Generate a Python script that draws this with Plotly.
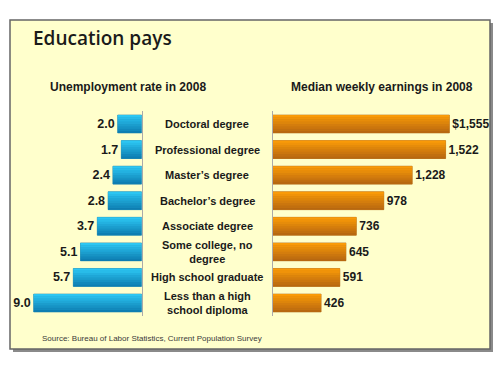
import plotly.graph_objects as go

categories = ["Doctoral degree", "Professional degree", "Master’s degree", "Bachelor’s degree",
              "Associate degree", "Some college, no degree", "High school graduate",
              "Less than a high school diploma"]
category_labels = ["Doctoral degree", "Professional degree", "Master’s degree", "Bachelor’s degree",
                   "Associate degree", "Some college, no<br>degree", "High school graduate",
                   "Less than a high<br>school diploma"]
unemployment = [2.0, 1.7, 2.4, 2.8, 3.7, 5.1, 5.7, 9.0]
earnings = [1555, 1522, 1228, 978, 736, 645, 591, 426]
unemp_text = [f"{v:.1f}" for v in unemployment]
earn_text = [("$" if i == 0 else "") + f"{v:,}" for i, v in enumerate(earnings)]

W, H = 500, 375
FONT = "Liberation Sans, Arial, sans-serif"
BAR_W = 0.7
N_BANDS = 8


def mix(c1, c2, t):
    a = [int(c1[i:i + 2], 16) for i in (1, 3, 5)]
    b = [int(c2[i:i + 2], 16) for i in (1, 3, 5)]
    return "#" + "".join(f"{round(a[k] + (b[k] - a[k]) * t):02x}" for k in range(3))


def add_gradient_bars(fig, values, text, xa, ya, top, bottom, edge, tsize):
    fig.add_trace(go.Bar(
        x=values, y=categories, orientation="h", xaxis=xa, yaxis=ya,
        width=BAR_W, offset=-BAR_W / 2,
        marker=dict(color=mix(top, bottom, 0.5), line=dict(color=edge, width=0.6)),
        text=text, textposition="outside", cliponaxis=False, constraintext="none",
        textfont=dict(family=FONT, size=tsize, color="#1a1a1a", weight="bold"),
        hoverinfo="skip"))
    bw = BAR_W / N_BANDS
    for k in range(N_BANDS):
        fig.add_trace(go.Bar(
            x=values, y=categories, orientation="h", xaxis=xa, yaxis=ya,
            width=bw * 1.05, offset=-BAR_W / 2 + k * bw,
            marker=dict(color=mix(top, bottom, k / (N_BANDS - 1)), line_width=0),
            hoverinfo="skip"))


fig = go.Figure()
add_gradient_bars(fig, unemployment, unemp_text, "x", "y", "#2CC6F2", "#0E7EB2", "#0B78A8", 12.5)
add_gradient_bars(fig, earnings, earn_text, "x2", "y2", "#F99A08", "#B86810", "#A85F10", 12)

ydom = [(H - 315.8) / H, (H - 111.2) / H]
left_zero = 141.7
right_zero = 272.7
fig.update_layout(
    width=W, height=H, margin=dict(l=0, r=0, t=0, b=0),
    paper_bgcolor="white", plot_bgcolor="rgba(0,0,0,0)",
    showlegend=False, barmode="overlay",
    xaxis=dict(domain=[20 / W, left_zero / W], range=[(left_zero - 20) / 12.0, 0],
               visible=False, fixedrange=True),
    yaxis=dict(domain=ydom, anchor="x", side="right", categoryorder="array",
               categoryarray=categories, range=[7.5, -0.5], showticklabels=False,
               showline=True, linecolor="#aaaaaa", linewidth=1, showgrid=False, ticks=""),
    xaxis2=dict(domain=[right_zero / W, 480 / W], range=[0, (480 - right_zero) / 0.1136],
                visible=False, fixedrange=True),
    yaxis2=dict(domain=ydom, anchor="x2", side="left", categoryorder="array",
                categoryarray=categories, range=[7.5, -0.5], showticklabels=False,
                showline=True, linecolor="#aaaaaa", linewidth=1, showgrid=False, ticks=""),
)

# panel with shadow
fig.add_shape(type="rect", xref="paper", yref="paper", x0=13 / W, x1=493 / W,
              y0=(H - 352) / H, y1=(H - 23) / H, fillcolor="#8a8a8a", line_width=0, layer="below")
fig.add_shape(type="rect", xref="paper", yref="paper", x0=10 / W, x1=490 / W,
              y0=(H - 349) / H, y1=(H - 20) / H, fillcolor="#FFFFCC",
              line=dict(color="#666666", width=1.5), layer="below")

fig.add_annotation(text="Education pays", xref="paper", yref="paper", x=31 / W, y=(H - 38) / H,
                   xanchor="left", yanchor="middle", showarrow=False,
                   font=dict(family="Open Sans, sans-serif", size=19, color="#1a1a1a", weight=600))
fig.add_annotation(text="Unemployment rate in 2008", xref="paper", yref="paper", x=127.5 / W,
                   y=(H - 87) / H, xanchor="center", yanchor="middle", showarrow=False,
                   font=dict(family=FONT, size=12, color="#1a1a1a", weight="bold"))
fig.add_annotation(text="Median weekly earnings in 2008", xref="paper", yref="paper", x=381.7 / W,
                   y=(H - 87) / H, xanchor="center", yanchor="middle", showarrow=False,
                   font=dict(family=FONT, size=12, color="#1a1a1a", weight="bold"))
for cat, lab in zip(categories, category_labels):
    fig.add_annotation(text=lab, xref="paper", yref="y", x=207 / W, y=cat,
                       xanchor="center", yanchor="middle", showarrow=False,
                       font=dict(family=FONT, size=11, color="#1a1a1a", weight="bold"))
fig.add_annotation(text="Source: Bureau of Labor Statistics, Current Population Survey",
                   xref="paper", yref="paper", x=40 / W, y=(H - 338) / H, xanchor="left",
                   yanchor="middle", showarrow=False,
                   font=dict(family=FONT, size=8, color="#3a3a3a"))

fig.write_html("out.html", config={"displayModeBar": False},
               post_script="document.body.style.margin='0';document.body.style.overflow='hidden';")
